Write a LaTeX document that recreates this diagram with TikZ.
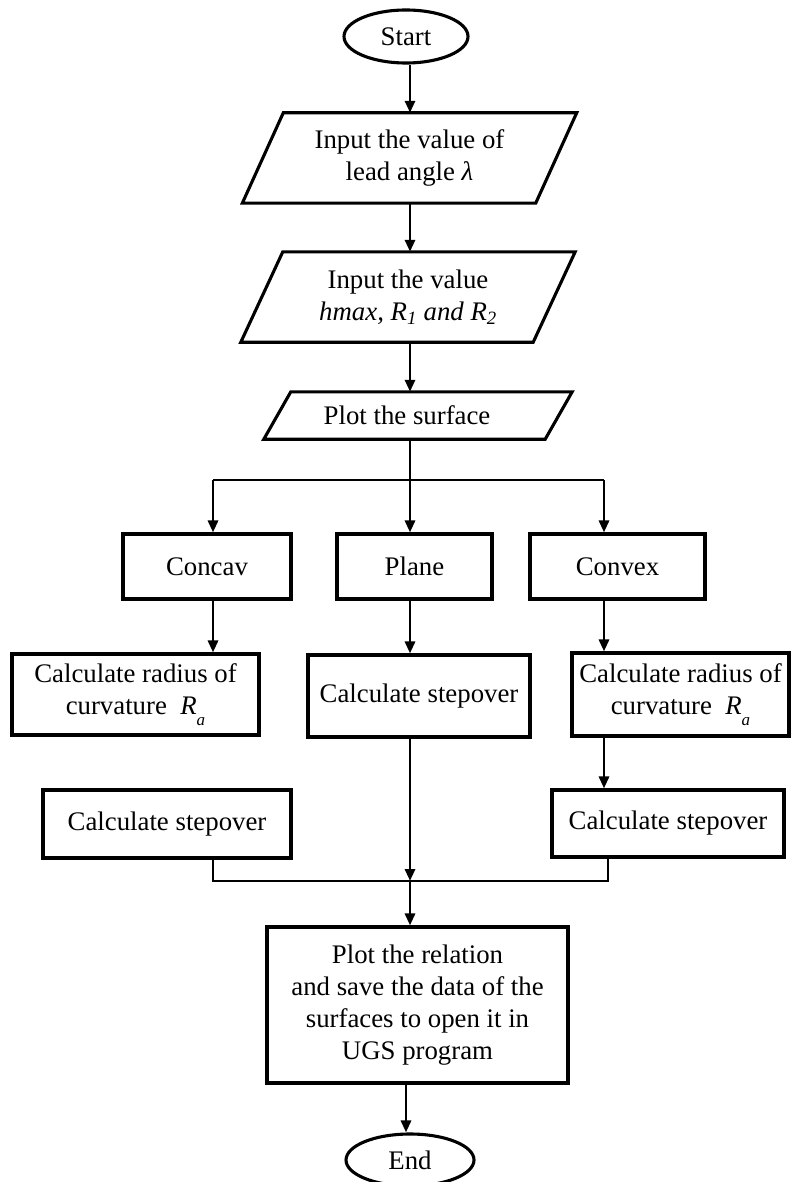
\documentclass[tikz,border=0pt]{standalone}
\usepackage{fontspec}
\setmainfont{Liberation Serif}
\usetikzlibrary{arrows.meta,shapes.geometric}
\newcommand\drawpara[2]{\draw[boxline] ([xshift=-#2]#1.south west) -- ([xshift=#2]#1.north west) -- ([xshift=#2]#1.north east) -- ([xshift=-#2]#1.south east) -- cycle;}
\begin{document}
\begin{tikzpicture}[x=1pt,y=-1pt,
  every node/.style={font=\fontsize{26.8}{32}\selectfont, inner sep=0pt, align=center},
  boxline/.style={line width=3.1pt, line join=miter},
  procbox/.style={draw, boxline, rectangle},
  term/.style={draw, boxline, ellipse},
  parabox/.style={rectangle},
  conn/.style={line width=2.9pt},
  arr/.style={conn, -{Triangle[length=12pt,width=10pt]}}]
\useasboundingbox (0,0) rectangle (792,1182);
% terminals and inputs
\node[term, minimum width=124pt, minimum height=53pt] (start) at (406,36.5) {Start};
\node[parabox, minimum width=293pt, minimum height=90pt] (p1) at (409.5,158) {Input the value of\\lead angle \textit{λ}};
\drawpara{p1}{20.5pt}
\node[parabox, minimum width=292pt, minimum height=90pt] (p2) at (408,297) {Input the value\\\textit{hmax, R\textsubscript{1} and R\textsubscript{2}}};
\drawpara{p2}{21pt}
\node[parabox, minimum width=281pt, minimum height=47pt] (p3) at (418,415.5) {\hspace*{-22pt}Plot the surface};
\drawpara{p3}{13.5pt}
% branch boxes
\node[procbox, minimum width=168pt, minimum height=65pt] (concav) at (207,566.5) {Concav};
\node[procbox, minimum width=155pt, minimum height=65pt] (plane) at (414.5,566.5) {Plane};
\node[procbox, minimum width=175pt, minimum height=65pt] (convex) at (617.5,566.5) {Convex};
\node[procbox, minimum width=247pt, minimum height=81pt] (radl) at (135.5,694.5) {Calculate radius of\\curvature\ \ \textit{R}\raisebox{-0.4em}{\fontsize{17}{17}\selectfont\textit{a}}};
\node[procbox, minimum width=222pt, minimum height=82pt] (stepm) at (419,696) {\raisebox{-3pt}{Calculate stepover}};
\node[procbox, minimum width=217pt, minimum height=83pt] (radr) at (680.5,694.5) {Calculate radius of\\curvature\ \ \textit{R}\raisebox{-0.4em}{\fontsize{17}{17}\selectfont\textit{a}}};
\node[procbox, minimum width=248pt, minimum height=68pt] (stepl) at (167,824) {Calculate stepover};
\node[procbox, minimum width=232pt, minimum height=67pt] (stepr) at (668,823.5) {Calculate stepover};
\node[procbox, minimum width=301pt, minimum height=156pt] (fin) at (417.5,1005) {Plot the relation\\and save the data of the\\surfaces to open it in\\UGS program};
\node[term, minimum width=128pt, minimum height=52pt] (end) at (410,1160) {End};
% junction coordinates
\coordinate (bl) at (213,480);
\coordinate (bm) at (410,480);
\coordinate (br) at (604,480);
\coordinate (ml) at (213,881);
\coordinate (mm) at (410,881);
\coordinate (mr) at (608,881);
% connectors
\draw[arr] (start.south -| bm) -- (p1.north -| bm);
\draw[arr] (p1.south -| bm) -- (p2.north -| bm);
\draw[arr] (p2.south -| bm) -- (p3.north -| bm);
\draw[conn] (p3.south -| bm) -- (bm);
\draw[conn] (bl) -- (br);
\draw[arr] (bl) -- (bl |- concav.north);
\draw[arr] (bm) -- (bm |- plane.north);
\draw[arr] (br) -- (br |- convex.north);
\draw[arr] (bl |- concav.south) -- (bl |- radl.north);
\draw[arr] (bm |- plane.south) -- (bm |- stepm.north);
\draw[arr] (br |- convex.south) -- (br |- radr.north);
\draw[arr] (br |- radr.south) -- (br |- stepr.north);
\draw[arr] (bm |- stepm.south) -- (mm);
\draw[conn] (ml |- stepl.south) -- (ml) -- (mr) -- (mr |- stepr.south);
\draw[arr] (mm) -- (mm |- fin.north);
\draw[arr] ([xshift=-4pt]end.north |- fin.south) -- ([xshift=-4pt]end.north);
\end{tikzpicture}
\end{document}
